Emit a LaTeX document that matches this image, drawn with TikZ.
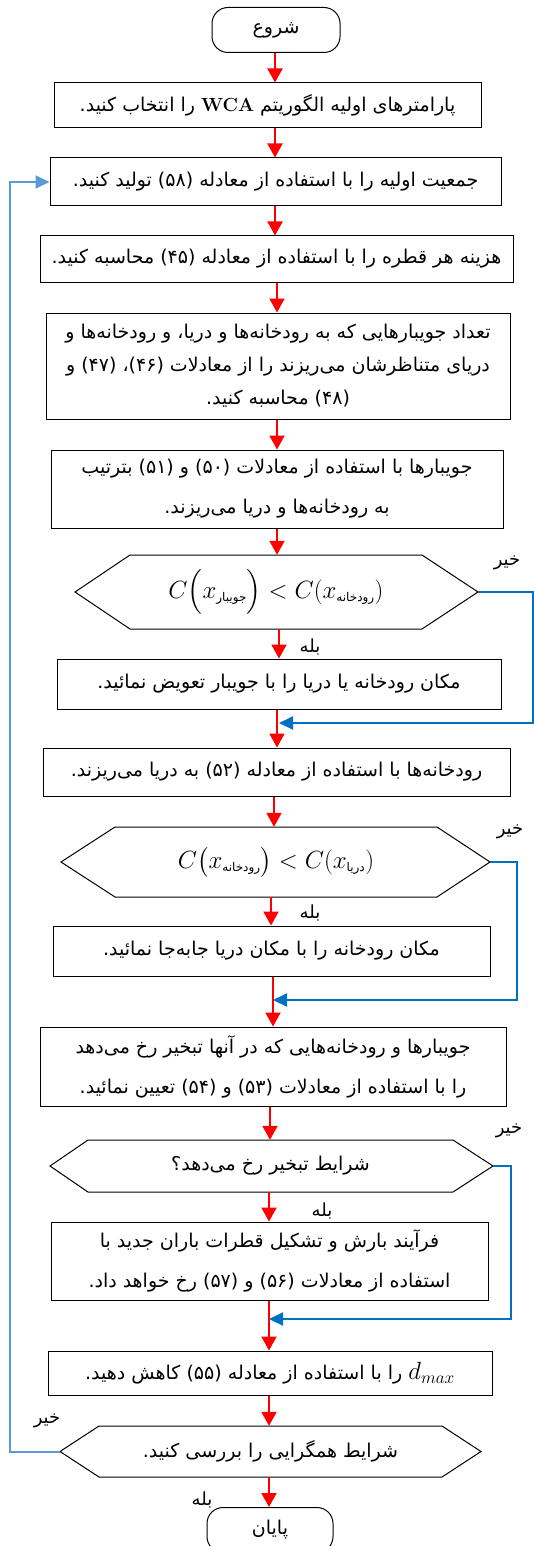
\documentclass[tikz,border=0pt]{standalone}
\usepackage{amsmath}
\usepackage{fontspec}
\usetikzlibrary{arrows.meta}
\newfontfamily\farsi[Script=Arabic]{DejaVu Sans}
\TeXXeTstate=1
\newcommand{\rtlline}[1]{\beginR #1\endR}
\newcommand{\sub}[1]{\hbox{\farsi\fontsize{12}{12}\selectfont\beginR #1\endR}}
\definecolor{flowred}{HTML}{FF0000}
\definecolor{noblue}{HTML}{0070C0}
\definecolor{loopblue}{HTML}{5B9BD5}
\tikzset{
  box/.style={draw, line width=1pt, inner sep=0pt, align=center,
    font=\farsi\fontsize{19}{40}\selectfont},
  term/.style={box, rounded corners=16pt},
  cond/.style={inner sep=0pt, align=center, font=\farsi\fontsize{19}{40}\selectfont},
  hex/.style={line width=1pt},
  flow/.style={flowred, line width=2pt, -{Triangle[length=14pt,width=15pt]}},
  noflow/.style={noblue, line width=2pt, -{Triangle[length=14pt,width=13pt]}},
  loopflow/.style={loopblue, line width=2pt, -{Triangle[length=14pt,width=13pt]}},
  lbl/.style={font=\farsi\fontsize{18}{18}\selectfont}
}
\begin{document}
\begin{tikzpicture}[x=1pt,y=-1pt]
  \useasboundingbox (0,0) rectangle (534,1546);

  % start and first steps
  \node[term, minimum width=128pt, minimum height=45pt] (start) at (276,30) {\rtlline{شروع}};
  \node[box, minimum width=427pt, minimum height=45pt] (b1) at (267.5,105.5)
    {\rtlline{پارامترهای اولیه الگوریتم \beginL{\rmfamily\bfseries WCA}\endL{} را انتخاب کنید.}};
  \node[box, minimum width=451pt, minimum height=48pt] (b2) at (275.5,182)
    {\rtlline{جمعیت اولیه را با استفاده از معادله (۵۸) تولید کنید.}};
  \node[box, minimum width=473pt, minimum height=46pt] (b3) at (276.5,259)
    {\rtlline{هزینه هر قطره را با استفاده از معادله (۴۵) محاسبه کنید.}};
  \node[box, minimum width=464pt, minimum height=106pt, font=\farsi\fontsize{19}{33}\selectfont] (b4) at (278,366)
    {\rtlline{تعداد جویبارهایی که به رودخانه‌ها و دریا، و رودخانه‌ها و}\\
     \rtlline{دریای متناظرشان می‌ریزند را از معادلات (۴۶)، (۴۷) و}\\
     \rtlline{(۴۸) محاسبه کنید.}};
  \node[box, minimum width=452pt, minimum height=78pt] (b5) at (277,489)
    {\rtlline{جویبارها با استفاده از معادلات (۵۰) و (۵۱) بترتیب}\\
     \rtlline{به رودخانه‌ها و دریا می‌ریزند.}};

  % first test: stream against river
  \draw[hex] (75,592) -- (130,555) -- (422,555) -- (478,592) -- (422,629) -- (130,629) -- cycle;
  \coordinate (d1e) at (478,592);
  \node[cond, minimum height=74pt] (d1) at (276,592)
    {\fontsize{25}{25}\selectfont$C\Bigl(x_{\sub{جویبار}}\Bigr) < C(x_{\sub{رودخانه}})$};
  \node[box, minimum width=444pt, minimum height=50pt] (b6) at (279,684)
    {\rtlline{مکان رودخانه یا دریا را با جویبار تعویض نمائید.}};
  \node[box, minimum width=467pt, minimum height=48pt] (b7) at (276.5,772)
    {\rtlline{رودخانه‌ها با استفاده از معادله (۵۲) به دریا می‌ریزند.}};

  % second test: river against sea
  \draw[hex] (61,862) -- (115,827) -- (437,827) -- (490,862) -- (437,897) -- (115,897) -- cycle;
  \coordinate (d2e) at (490,862);
  \node[cond, minimum height=70pt] (d2) at (276,862)
    {\fontsize{25}{25}\selectfont$C\bigl(x_{\sub{رودخانه}}\bigr) < C(x_{\sub{دریا}})$};
  \node[box, minimum width=437pt, minimum height=50pt] (b8) at (271.5,951)
    {\rtlline{مکان رودخانه را با مکان دریا جابه‌جا نمائید.}};
  \node[box, minimum width=466pt, minimum height=79pt] (b9) at (273,1066.5)
    {\rtlline{جویبارها و رودخانه‌هایی که در آنها تبخیر رخ می‌دهد}\\
     \rtlline{را با استفاده از معادلات (۵۳) و (۵۴) تعیین نمائید.}};

  % evaporation test
  \draw[hex] (50,1166) -- (88,1140) -- (453,1140) -- (493,1166) -- (453,1192) -- (88,1192) -- cycle;
  \coordinate (d3e) at (493,1166);
  \node[cond, minimum height=52pt] (d3) at (270.5,1166) {\rtlline{شرایط تبخیر رخ می‌دهد؟}};
  \node[box, minimum width=437pt, minimum height=78pt] (b10) at (269.5,1261)
    {\rtlline{فرآیند بارش و تشکیل قطرات باران جدید با}\\
     \rtlline{استفاده از معادلات (۵۶) و (۵۷) رخ خواهد داد.}};
  \node[box, minimum width=444pt, minimum height=44pt] (b11) at (270,1373)
    {\rtlline{\beginL{\fontsize{24}{24}\selectfont$d_{max}$}\endL{} را با استفاده از معادله (۵۵) کاهش دهید.}};

  % convergence test and end
  \draw[hex] (60,1451.5) -- (99,1426) -- (442,1426) -- (481,1451.5) -- (442,1477) -- (99,1477) -- cycle;
  \coordinate (d4w) at (60,1451.5);
  \node[cond, minimum height=51pt] (d4) at (270.5,1451.5) {\rtlline{شرایط همگرایی را بررسی کنید.}};
  \node[term, minimum width=126pt, minimum height=45pt] (end) at (270,1530) {\rtlline{پایان}};

  % main flow
  \draw[flow] (start.south -| 275,0) -- (b1.north -| 275,0);
  \draw[flow] (b1.south -| 275,0) -- (b2.north -| 275,0);
  \draw[flow] (b2.south -| 275,0) -- (b3.north -| 275,0);
  \draw[flow] (b3.south -| 277,0) -- (b4.north -| 277,0);
  \draw[flow] (b4.south -| 277,0) -- (b5.north -| 277,0);
  \draw[flow] (b5.south -| 277,0) -- (d1.north -| 277,0);
  \draw[flow] (d1.south -| 279,0) -- (b6.north -| 279,0);
  \draw[flow] (b6.south -| 277,0) -- (b7.north -| 277,0);
  \draw[flow] (b7.south -| 274,0) -- (d2.north -| 274,0);
  \draw[flow] (d2.south -| 271,0) -- (b8.north -| 271,0);
  \draw[flow] (b8.south -| 273,0) -- (b9.north -| 273,0);
  \draw[flow] (b9.south -| 270,0) -- (d3.north -| 270,0);
  \draw[flow] (d3.south -| 269,0) -- (b10.north -| 269,0);
  \draw[flow] (b10.south -| 269,0) -- (b11.north -| 269,0);
  \draw[flow] (b11.south -| 269,0) -- (d4.north -| 269,0);
  \draw[flow] (d4.south -| 269,0) -- (end.north -| 269,0);

  % no branches
  \draw[noflow] (d1e) -- (532.5,592) -- (532.5,723) -- (279,723);
  \draw[noflow] (d2e) -- (517,862) -- (517,1000) -- (273,1000);
  \draw[noflow] (d3e) -- (511,1166) -- (511,1319) -- (269,1319);
  \draw[loopflow] (d4w) -- (10,1451.5) -- (10,182) -- (b2.west);

  % yes / no labels
  \node[lbl] (no1) at (507,563) {\rtlline{خیر}};
  \node[lbl] (no2) at (510,832) {\rtlline{خیر}};
  \node[lbl] (no3) at (509,1131) {\rtlline{خیر}};
  \node[lbl] (no4) at (47,1421) {\rtlline{خیر}};
  \node[lbl] (yes1) at (310,647) {\rtlline{بله}};
  \node[lbl] (yes2) at (310,913) {\rtlline{بله}};
  \node[lbl] (yes3) at (322,1211) {\rtlline{بله}};
  \node[lbl] (yes4) at (202,1500) {\rtlline{بله}};
\end{tikzpicture}
\end{document}
